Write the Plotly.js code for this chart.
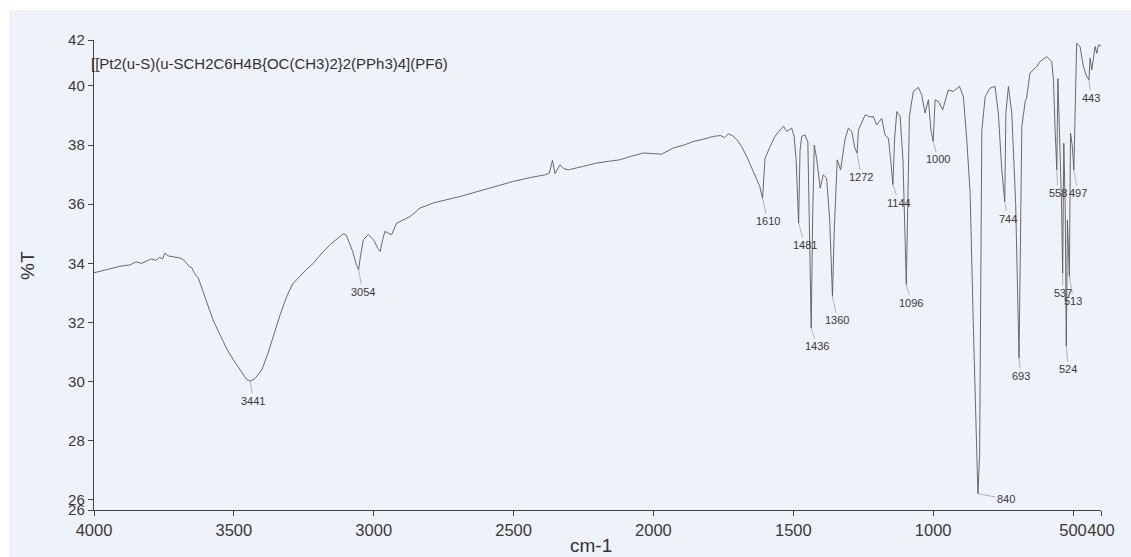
<!DOCTYPE html>
<html>
<head>
<meta charset="utf-8">
<script src="https://cdn.plot.ly/plotly-3.0.1.min.js"></script>
<style>html,body{margin:0;padding:0;background:#fff;}#chart{width:1131px;height:557px;}</style>
</head>
<body>
<div id="chart"></div>
<script>
// Wavenumber (cm-1) and %T
const wavenumber = [
4000,3950,3907,3870,3850,3830,3812,3795,3780,3765,3755,3746,3735,3720,3705,3693,3680,3669,3660,3650,3640,3627,3612,3597,3575,3550,3525,3502,3475,3454,3441,3425,3400,3380,3359,3335,3311,3290,3264,3240,3216,3185,3156,3130,3109,3098,3091,3075,3062,3054,3048,3037,3019,3001,2985,2977,2968,2960,2945,2936,2918,2900,2870,2834,2787,2740,2691,2620,2560,2501,2440,2388,2372,2361,2352,2334,2320,2304,2250,2203,2160,2120,2080,2036,1971,1929,1890,1857,1820,1786,1760,1745,1732,1715,1702,1685,1666,1650,1631,1620,1610,1605,1601,1583,1565,1547,1535,1524,1506,1497,1490,1481,1476,1470,1458,1448,1441,1436,1431,1425,1416,1404,1393,1381,1370,1360,1354,1343,1331,1315,1303,1291,1280,1272,1267,1243,1225,1214,1202,1184,1172,1160,1152,1144,1138,1130,1118,1108,1096,1091,1085,1071,1053,1041,1029,1017,1008,1000,993,981,966,946,928,906,892,880,868,856,846,840,834,830,826,814,797,779,767,755,744,740,731,719,705,693,688,683,671,666,654,630,618,594,576,570,564,558,554,548,541,537,533,528,524,520,513,509,503,497,492,487,475,463,451,443,439,433,421,415,409,400
];
const transmittance = [
33.68,33.80,33.90,33.95,34.05,34.00,34.08,34.15,34.10,34.20,34.15,34.35,34.25,34.22,34.20,34.18,34.12,34.00,33.90,33.85,33.65,33.50,33.10,32.66,32.10,31.59,31.10,30.74,30.35,30.07,30.02,30.10,30.40,30.90,31.53,32.25,32.88,33.30,33.56,33.80,34.00,34.35,34.63,34.85,35.00,34.95,34.80,34.40,33.95,33.78,34.20,34.80,34.97,34.80,34.50,34.40,34.80,35.08,35.00,34.97,35.36,35.45,35.58,35.87,36.04,36.15,36.26,36.45,36.62,36.77,36.90,36.99,37.05,37.48,37.03,37.33,37.20,37.16,37.28,37.39,37.45,37.50,37.62,37.73,37.69,37.90,38.00,38.12,38.20,38.29,38.32,38.25,38.38,38.30,38.18,37.95,37.60,37.25,36.82,36.60,36.20,37.00,37.55,37.95,38.30,38.51,38.63,38.46,38.57,38.29,37.50,35.36,37.80,38.29,38.34,38.10,35.00,31.81,35.50,38.00,37.50,36.54,36.99,36.88,35.50,32.88,35.00,37.50,37.16,38.20,38.57,38.46,37.90,37.73,38.51,39.02,38.95,38.96,38.68,38.90,38.34,38.23,37.50,36.66,38.20,39.13,38.96,37.50,33.28,36.00,38.96,39.81,39.95,39.70,39.08,39.53,38.50,38.12,39.53,39.47,39.19,39.86,39.81,39.98,39.64,38.20,36.40,31.76,28.00,26.21,27.50,33.00,38.50,39.64,39.92,39.98,39.08,37.20,36.09,39.08,39.98,39.08,36.00,30.80,35.00,38.63,39.47,39.58,40.43,40.65,40.82,40.99,40.82,40.20,38.50,37.16,40.24,38.50,36.00,33.67,38.06,36.00,31.20,35.47,33.56,38.40,38.00,37.16,39.50,41.44,41.33,40.65,40.31,40.20,40.94,40.54,41.33,41.10,41.39,41.35
];
// Labelled peaks
const peakWn = [3441,3054,1610,1481,1436,1360,1272,1144,1096,1000,840,744,693,558,497,537,513,524,443];
const peakT  = [30.02,33.78,36.20,35.36,31.81,32.88,37.73,36.66,33.28,38.12,26.21,36.09,30.80,37.16,37.16,33.67,33.56,31.20,40.20];
const peakLabelDx = [3,4,5,6,6,5,4,6,5,5,28,3,2,1,4,0,4,2,2];
const peakLabelDy = [20,22,23,22,18,24,24,18,18,18,5,17,18,23,23,20,25,23,18];

const xTickVals = [4000,3500,3000,2500,2000,1500,1000,500,400];
const xTickText = ['4000','3500','3000','2500','2000','1500','1000','500','400'];
const yTickVals = [25.66,26,28,30,32,34,36,38,40,41.55];
const yTickText = ['26','26','28','30','32','34','36','38','40','42'];
const sampleName = '[[Pt2(u-S)(u-SCH2C6H4B{OC(CH3)2}2(PPh3)4](PF6)';

const L = 94, R = 30, T = 40, B = 47;
const PW = 1131 - L - R, PH = 557 - T - B;
const px = v => (v - L) / PW;      // page x -> paper
const py = v => (557 - B - v) / PH; // page y -> paper

const annotations = peakWn.map((w, i) => ({
  x: w, y: peakT[i], xref: 'x', yref: 'y',
  text: String(w), showarrow: true, arrowhead: 0, arrowwidth: 0.6,
  arrowcolor: '#8a8a8a', ax: peakLabelDx[i], ay: peakLabelDy[i], standoff: 0,
  font: {family: 'Liberation Sans, Arial, sans-serif', size: 11, color: '#3a3a3a'}
}));
annotations.push({
  xref: 'paper', yref: 'paper', x: px(89), y: py(63), xanchor: 'left', yanchor: 'middle',
  text: sampleName, showarrow: false,
  font: {family: 'Liberation Sans, Arial, sans-serif', size: 15, color: '#333'}
});
annotations.push({
  xref: 'paper', yref: 'paper', x: px(27), y: py(266), xanchor: 'center', yanchor: 'middle',
  text: '%T', textangle: -90, showarrow: false,
  font: {family: 'Liberation Sans, Arial, sans-serif', size: 19, color: '#333'}
});
annotations.push({
  xref: 'paper', yref: 'paper', x: px(591), y: py(545), xanchor: 'center', yanchor: 'middle',
  text: 'cm-1', showarrow: false,
  font: {family: 'Liberation Sans, Arial, sans-serif', size: 19, color: '#333'}
});

const trace = {
  x: wavenumber, y: transmittance, type: 'scatter', mode: 'lines',
  line: {color: '#5a5a5a', width: 0.9}, hoverinfo: 'skip'
};

const layout = {
  width: 1131, height: 557,
  margin: {l: L, r: R, t: T, b: B},
  paper_bgcolor: '#ffffff', plot_bgcolor: 'rgba(0,0,0,0)',
  showlegend: false,
  shapes: [{
    type: 'rect', xref: 'paper', yref: 'paper', layer: 'below',
    x0: px(9), x1: px(1131), y0: py(557), y1: py(10),
    fillcolor: '#eef2f9', line: {width: 0}
  }],
  xaxis: {
    range: [4000, 400], showgrid: false, zeroline: false,
    showline: true, linecolor: '#444', linewidth: 1.2, mirror: false,
    ticks: 'outside', ticklen: 5, tickcolor: '#444', tickwidth: 1,
    tickmode: 'array', tickvals: xTickVals, ticktext: xTickText, tickangle: 0,
    tickfont: {family: 'Liberation Sans, Arial, sans-serif', size: 16.5, color: '#3a3a3a'}
  },
  yaxis: {
    range: [25.66, 41.55], showgrid: false, zeroline: false,
    showline: true, linecolor: '#444', linewidth: 1.2, mirror: false,
    ticks: 'outside', ticklen: 5, tickcolor: '#444', tickwidth: 1,
    tickmode: 'array', tickvals: yTickVals, ticktext: yTickText,
    tickfont: {family: 'Liberation Sans, Arial, sans-serif', size: 15, color: '#3a3a3a'}
  },
  annotations: annotations
};

Plotly.newPlot('chart', [trace], layout, {staticPlot: true, displayModeBar: false});
</script>
</body>
</html>
